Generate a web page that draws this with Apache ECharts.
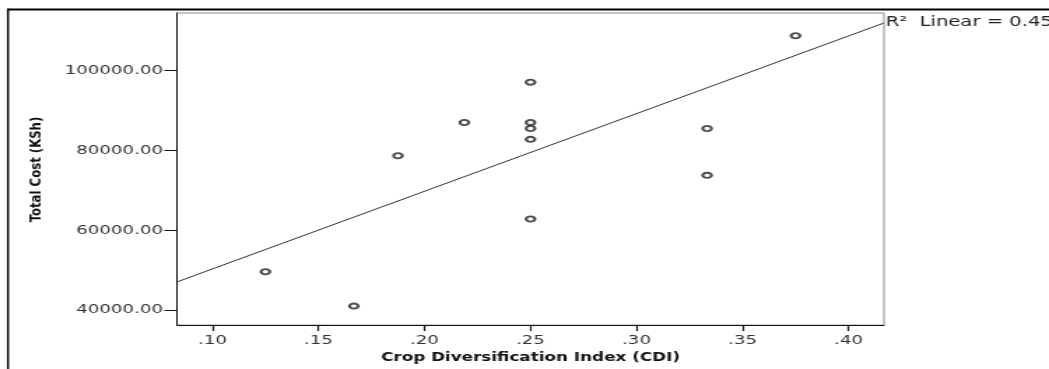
<!DOCTYPE html>
<html>
<head>
<meta charset="utf-8">
<script src="https://cdn.jsdelivr.net/npm/echarts@6/dist/echarts.min.js"></script>
<style>
  html, body { margin: 0; padding: 0; background: #fff; overflow: hidden; }
  #chart { width: 750px; height: 369px; transform: scaleX(1.398667); transform-origin: 0 0; }
</style>
</head>
<body>
<div id="chart"></div>
<script>
// Data
const cdi  = [0.125, 0.1667, 0.1875, 0.2188, 0.25, 0.25, 0.25, 0.25, 0.25, 0.3333, 0.3333, 0.375];
const cost = [49600, 41000, 78600, 86900, 97000, 86900, 85400, 82700, 62800, 85400, 73700, 108600];
// Fit line end points as drawn (x at the axis ends)
const fitX = [0.0833, 0.4167];
const fitY = [47050, 111800];
// Tick values and labels
const xTicks = [0.10, 0.15, 0.20, 0.25, 0.30, 0.35, 0.40];
const xTickLabels = ['.10', '.15', '.20', '.25', '.30', '.35', '.40'];
const yTicks = [40000, 60000, 80000, 100000];
const yTickLabels = ['40000.00', '60000.00', '80000.00', '100000.00'];
const xTitle = 'Crop Diversification Index (CDI)';
const yTitle = 'Total Cost (KSh)';
const fitLabel = 'R\u00B2  Linear = 0.452';

const S = 1.398667; // horizontal stretch of the page
const chart = echarts.init(document.getElementById('chart'), null, { renderer: 'canvas' });

const labelOf = (ticks, labels) => (v) => {
  let best = 0;
  for (let i = 0; i < ticks.length; i++) if (Math.abs(ticks[i] - v) < Math.abs(ticks[best] - v)) best = i;
  return labels[best];
};

const option = {
  animation: false,
  backgroundColor: '#fff',
  grid: {
    left: 126.55, right: 118, top: 13, bottom: 43,
    show: true, borderColor: '#8a8a8a', borderWidth: 1, backgroundColor: 'transparent'
  },
  xAxis: {
    type: 'value', min: 0.0833, max: 0.4167,
    name: xTitle, nameLocation: 'middle', nameGap: 25,
    nameTextStyle: { fontFamily: 'DejaVu Sans', fontWeight: 'bold', fontSize: 12, color: '#111' },
    axisLine: { show: true, onZero: false, lineStyle: { color: '#111', width: 1 } },
    axisTick: { show: true, length: 6, customValues: xTicks, lineStyle: { color: '#111', width: 1.2 } },
    axisLabel: { margin: 9, customValues: xTicks, formatter: labelOf(xTicks, xTickLabels),
      fontFamily: 'DejaVu Sans', fontSize: 13, color: '#333' },
    splitLine: { show: false }
  },
  yAxis: {
    type: 'value', min: 36250, max: 114300,
    axisLine: { show: true, onZero: false, lineStyle: { color: '#111', width: 1 } },
    axisTick: { show: true, length: 9, customValues: yTicks, lineStyle: { color: '#111', width: 1 } },
    axisLabel: { margin: 10, customValues: yTicks, formatter: labelOf(yTicks, yTickLabels),
      fontFamily: 'DejaVu Sans', fontSize: 13, color: '#333' },
    splitLine: { show: false }
  },
  graphic: [
    { type: 'line', shape: { x1: 5.72, y1: 9.5, x2: 800, y2: 9.5 }, style: { stroke: '#000', lineWidth: 2 }, z: 100 },
    { type: 'line', shape: { x1: 5.72, y1: 8.5, x2: 5.72, y2: 400 }, style: { stroke: '#000', lineWidth: 1.45 }, z: 100 },
    { type: 'text', x: 26.45, y: 169.5, rotation: Math.PI / 2, scaleX: 1, scaleY: 1.15 / S,
      style: { text: yTitle, font: 'bold 13px "DejaVu Sans Condensed", "DejaVu Sans", sans-serif',
        fill: '#111', textAlign: 'center', textVerticalAlign: 'middle' }, z: 100 },
    { type: 'text', x: 633.2, y: 22,
      style: { text: fitLabel, font: '14px "DejaVu Sans", sans-serif', fill: '#222',
        textAlign: 'left', textVerticalAlign: 'middle' }, z: 100 }
  ],
  series: [
    {
      type: 'line', data: fitX.map((x, i) => [x, fitY[i]]),
      symbol: 'none', lineStyle: { color: '#333', width: 1 }, silent: true, z: 2
    },
    {
      type: 'scatter', data: cdi.map((x, i) => [x, cost[i]]),
      symbol: 'emptyCircle', symbolSize: [6.3, 5.2],
      itemStyle: { color: '#222', borderColor: '#222', borderWidth: 1.3 }, z: 3
    }
  ]
};
chart.setOption(option);
</script>
</body>
</html>
